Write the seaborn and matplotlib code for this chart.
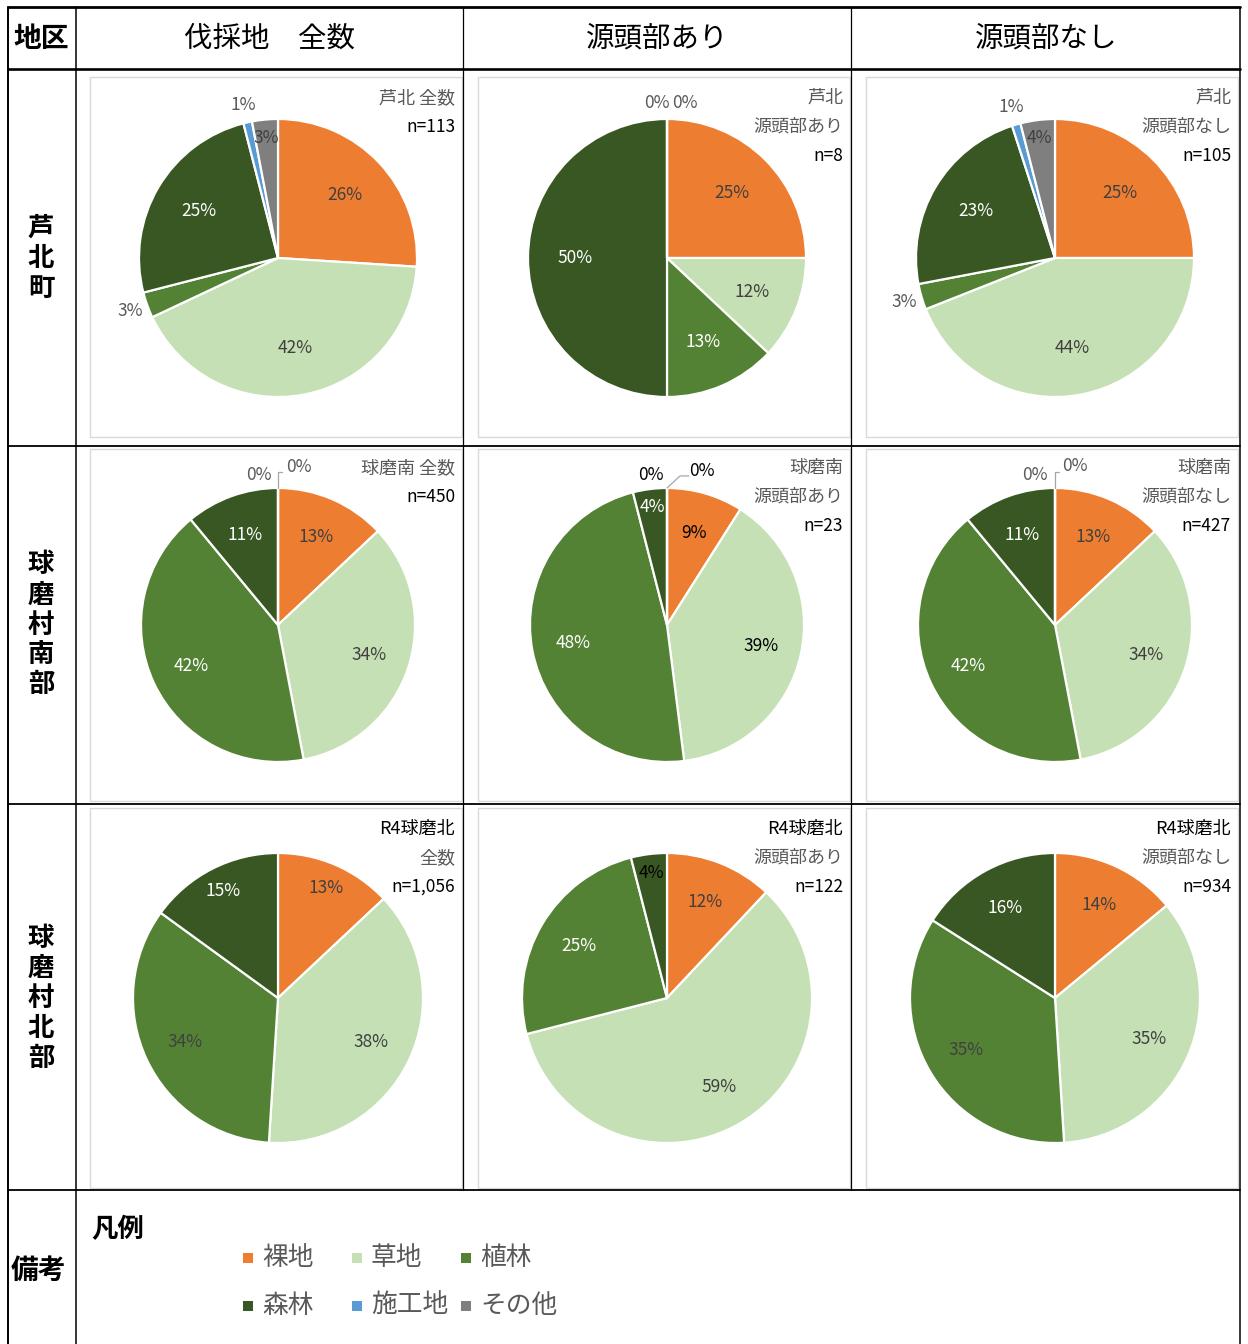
import matplotlib
matplotlib.use("Agg")
import matplotlib.pyplot as plt
import matplotlib.patches as mpatches
import numpy as np
import seaborn as sns

sns.set_theme(style="white")
plt.rcParams['font.family'] = ['Noto Sans CJK JP', 'DejaVu Sans']

# ---------------------------------------------------------------- data
CATEGORIES = ["裸地", "草地", "植林", "森林", "施工地", "その他"]
COL_HEADERS = ["伐採地　全数", "源頭部あり", "源頭部なし"]
ROW_HEADERS = ["芦北町", "球磨村南部", "球磨村北部"]

# land-cover shares (%) in category order
ashikita_all = [26, 42, 3, 25, 1, 3]
ashikita_src = [25, 12, 13, 50, 0, 0]
ashikita_nosrc = [25, 44, 3, 23, 1, 4]
kuma_s_all = [13, 34, 42, 11, 0, 0]
kuma_s_src = [9, 39, 48, 4, 0, 0]
kuma_s_nosrc = [13, 34, 42, 11, 0, 0]
kuma_n_all = [13, 38, 34, 15]
kuma_n_src = [12, 59, 25, 4]
kuma_n_nosrc = [14, 35, 35, 16]

SHARES = [
    [ashikita_all, ashikita_src, ashikita_nosrc],
    [kuma_s_all, kuma_s_src, kuma_s_nosrc],
    [kuma_n_all, kuma_n_src, kuma_n_nosrc],
]

TITLES = [
    [["芦北 全数", "n=113"], ["芦北", "源頭部あり", "n=8"], ["芦北", "源頭部なし", "n=105"]],
    [["球磨南 全数", "n=450"], ["球磨南", "源頭部あり", "n=23"], ["球磨南", "源頭部なし", "n=427"]],
    [["R4球磨北", "全数", "n=1,056"], ["R4球磨北", "源頭部あり", "n=122"], ["R4球磨北", "源頭部なし", "n=934"]],
]

# ---------------------------------------------------------------- style
PALETTE = sns.color_palette(["#ED7D31", "#C5E0B4", "#548235", "#385723", "#5B9BD5", "#7F7F7F"])
DARK = "#404040"
GREY = "#595959"

W, H = 1248, 1344
PIE_CX = [278, 667, 1055]
PIE_CY = [258, 625, 998]
PIE_R = [139, 137, 145]
BOX_X = [(90, 462), (478, 850), (866, 1238)]
BOX_Y = [(77, 437), (449, 801), (808, 1188)]
TITLE_X = [455, 843, 1231]
TITLE_Y0 = [98, 468, 829]
TITLE_DY = 29
ROW_LABEL_R = [0.66, 0.70, 0.71]

# slices whose label sits outside the pie
OUTSIDE = {(0, 0): {2, 4}, (0, 2): {2, 4}}
# radius overrides for individual labels
LABEL_R = {(2, 0): {0: 0.83, 3: 0.83}}
# label colour overrides
LABEL_COLOR = {(1, 1): {0: "black", 1: "black"}, (2, 0): {2: DARK},
               (2, 1): {3: "black"}, (2, 2): {2: DARK}}
# positions (in radius units) of the zero-share labels, with leader lines
ZERO_POS = {
    (0, 1): dict(pos=[(-0.07, 1.115), (0.13, 1.115)], leader=None, color=GREY),
    (1, 0): dict(pos=[(-0.14, 1.095), (0.15, 1.153)],
                 leader=[(0, 1.0), (0, 1.117), (0.03, 1.117)], color=GREY),
    (1, 1): dict(pos=[(-0.117, 1.095), (0.255, 1.124)],
                 leader=[(0, 1.0), (0.095, 1.088), (0.16, 1.088)], color="black"),
    (1, 2): dict(pos=[(-0.146, 1.095), (0.143, 1.16)],
                 leader=[(0, 1.0), (0, 1.117), (0.03, 1.117)], color=GREY),
}
DEFAULT_LABEL_COLOR = [DARK, DARK, "white", "white", DARK, DARK]
PCT_SIZE = 12.5

fig = plt.figure(figsize=(W / 100, H / 100), dpi=100)
fig.patch.set_facecolor("white")

# overlay axes in pixel units for the table grid and texts
ax0 = fig.add_axes([0, 0, 1, 1])
ax0.set_xlim(0, W)
ax0.set_ylim(H, 0)
ax0.axis("off")

# chart frames
for (y0, y1) in BOX_Y:
    for (x0, x1) in BOX_X:
        ax0.add_patch(mpatches.Rectangle((x0, y0), x1 - x0, y1 - y0, fill=False,
                                         edgecolor="#D9D9D9", linewidth=1.0))

# table grid
k = "black"
ax0.plot([8, 1240], [7, 7], color=k, lw=2.0)
ax0.plot([8, 1240], [69, 69], color=k, lw=1.9)
for y in [446, 804, 1190]:
    ax0.plot([8, 1240], [y, y], color=k, lw=1.3)
ax0.plot([8, 8], [7, 1344], color=k, lw=1.4)
ax0.plot([76, 76], [7, 1344], color=k, lw=1.1)
for x in [463, 851]:
    ax0.plot([x, x], [7, 1190], color=k, lw=0.9)
ax0.plot([1240, 1240], [7, 1344], color=k, lw=1.1)

# headers
ax0.text(41, 39, "地区", ha="center", va="center", fontsize=20, fontweight="bold", color="black")
for xc, txt in zip([270, 657, 1046], COL_HEADERS):
    ax0.text(xc, 39, txt, ha="center", va="center", fontsize=20.5, color="black")
for yc, txt in zip(PIE_CY, ROW_HEADERS):
    n = len(txt)
    for i, ch in enumerate(txt):
        ax0.text(41, yc + (i - (n - 1) / 2) * 30, ch, ha="center", va="center",
                 fontsize=19, fontweight="bold", color="black")
ax0.text(38, 1271, "備考", ha="center", va="center", fontsize=20, fontweight="bold", color="black")
ax0.text(91, 1230, "凡例", ha="left", va="center", fontsize=19, fontweight="bold", color="black")

# legend
for i, (cat, col) in enumerate(zip(CATEGORIES, PALETTE)):
    lx = 248 + (i % 3) * 109
    ly = 1258 + (i // 3) * 48
    ax0.add_patch(mpatches.Rectangle((lx - 5, ly - 5), 10, 10, facecolor=col, edgecolor="none"))
    ax0.text(lx + 14, ly, cat, ha="left", va="center", fontsize=18.5, color=GREY)

# chart titles
for r in range(3):
    for c in range(3):
        for j, line in enumerate(TITLES[r][c]):
            is_n = line.startswith("n=")
            col = "black" if (is_n or line.startswith("R4")) else GREY
            ax0.text(TITLE_X[c], TITLE_Y0[r] + j * TITLE_DY, line, ha="right", va="center",
                     fontsize=12.5 if is_n else 13, color=col)

# pies
LIM = 1.35
for r in range(3):
    for c in range(3):
        vals = SHARES[r][c]
        cx, cy, R = PIE_CX[c], PIE_CY[r], PIE_R[r]
        s = LIM * R
        ax = fig.add_axes([(cx - s) / W, 1 - (cy + s) / H, 2 * s / W, 2 * s / H])
        ax.set_facecolor("none")
        ax.pie(vals, colors=PALETTE[:len(vals)], startangle=90, counterclock=False,
               radius=1, wedgeprops=dict(edgecolor="white", linewidth=1.6))
        ax.set_xlim(-LIM, LIM)
        ax.set_ylim(-LIM, LIM)
        ax.axis("off")

        key = (r, c)
        total = float(sum(vals))
        cum = 0.0
        for i, v in enumerate(vals):
            if v > 0:
                theta = 2 * np.pi * (cum + v / 2) / total
                outside = i in OUTSIDE.get(key, set())
                if outside:
                    rad = 1.13
                    color = GREY
                elif v < 5:
                    rad = 0.87
                    color = DEFAULT_LABEL_COLOR[i]
                else:
                    rad = ROW_LABEL_R[r]
                    color = DEFAULT_LABEL_COLOR[i]
                rad = LABEL_R.get(key, {}).get(i, rad)
                color = LABEL_COLOR.get(key, {}).get(i, color)
                ax.text(rad * np.sin(theta), rad * np.cos(theta), f"{v}%",
                        ha="center", va="center", fontsize=PCT_SIZE, color=color)
            cum += v
        zeros = [i for i, v in enumerate(vals) if v == 0]
        if zeros and key in ZERO_POS:
            spec = ZERO_POS[key]
            for (zx, zy), i in zip(spec["pos"], zeros):
                ax.text(zx, zy, f"{vals[i]}%", ha="center", va="center",
                        fontsize=PCT_SIZE, color=spec["color"])
            if spec["leader"]:
                lx, ly = zip(*spec["leader"])
                ax.plot(lx, ly, color="#A6A6A6", lw=0.9)

fig.savefig("out.png", dpi=100, facecolor="white")
